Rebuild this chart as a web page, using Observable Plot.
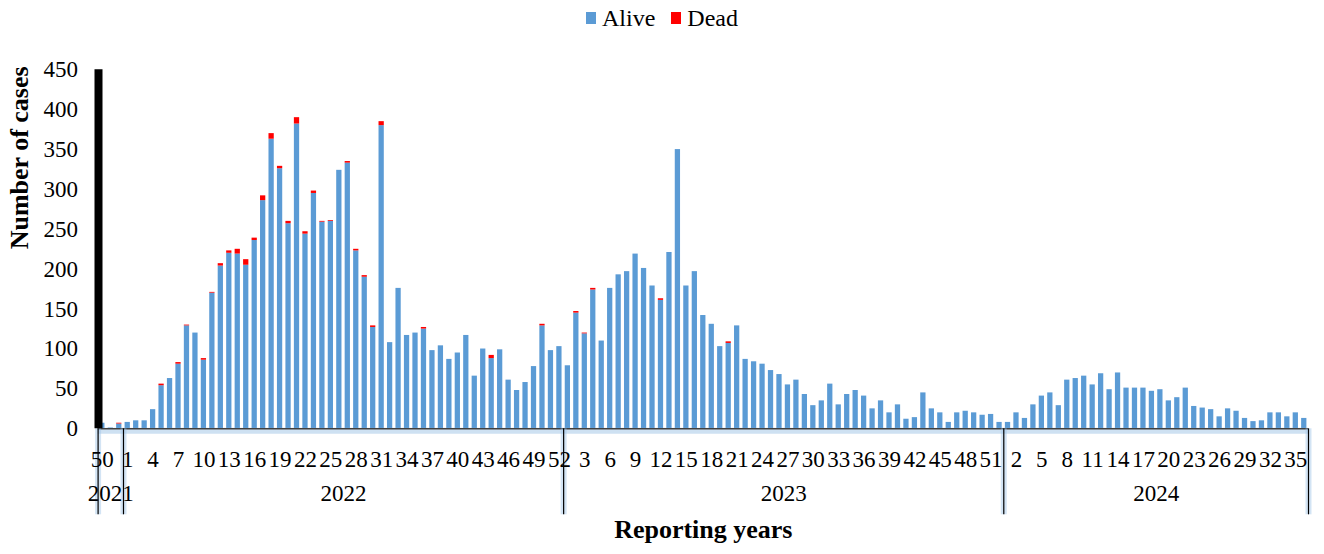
<!DOCTYPE html>
<html>
<head>
<meta charset="utf-8">
<script src="https://cdn.jsdelivr.net/npm/d3@7"></script>
<script src="https://cdn.jsdelivr.net/npm/@observablehq/plot@0.6"></script>
<style>
  body { margin: 0; background: #fff; font-family: "Liberation Serif", "Times New Roman", serif; }
  #legend { height: 36px; display: flex; justify-content: center; align-items: center; font-size: 24px; color: #000; gap: 16px; }
  .item { display: flex; align-items: center; }
  .sw { width: 10px; height: 12px; margin-right: 6px; }
</style>
</head>
<body>
<div id="legend"></div>
<div id="chart"></div>
<script>
// ---- data ----
const years = ["2021", "2022", "2023", "2024"];
const firstWeek = [50, 1, 1, 1];
const lastWeek = [52, 52, 52, 36];

const alive2021 = [7, 1, 6];
const dead2021 = [0, 0, 1];

const alive2022 = [8, 10, 10, 24, 54, 63, 81, 129, 120, 86,
                   170, 204, 220, 219, 205, 236, 286, 363, 326, 257,
                   382, 244, 295, 259, 260, 324, 333, 223, 190, 127,
                   380, 108, 176, 117, 120, 125, 98, 104, 87, 95,
                   117, 66, 100, 88, 99, 61, 48, 58, 78, 129,
                   98, 103];
const dead2022 = [0, 0, 0, 0, 2, 0, 2, 1, 0, 2,
                  1, 3, 3, 6, 7, 3, 6, 7, 3, 3,
                  8, 3, 3, 1, 1, 0, 2, 2, 2, 2,
                  5, 0, 0, 0, 0, 2, 0, 0, 0, 0,
                  0, 0, 0, 4, 0, 0, 0, 0, 0, 2,
                  0, 0];

const alive2023 = [79, 145, 119, 174, 110, 176, 193, 197, 219, 201,
                   179, 161, 221, 350, 179, 197, 142, 131, 103, 107,
                   129, 87, 84, 81, 73, 68, 55, 61, 43, 29,
                   35, 56, 30, 43, 48, 41, 25, 35, 20, 30,
                   12, 14, 45, 25, 20, 8, 20, 22, 20, 17,
                   18, 8];
const dead2023 = [0, 2, 1, 2, 0, 0, 0, 0, 0, 0,
                  0, 2, 0, 0, 0, 0, 0, 0, 0, 2,
                  0, 0, 0, 0, 0, 0, 0, 0, 0, 0,
                  0, 0, 0, 0, 0, 0, 0, 0, 0, 0,
                  0, 0, 0, 0, 0, 0, 0, 0, 0, 0,
                  0, 0];

const alive2024 = [8, 20, 13, 30, 41, 45, 29, 61, 63, 66,
                   55, 69, 49, 70, 51, 51, 51, 47, 49, 35,
                   39, 51, 28, 26, 24, 15, 25, 22, 13, 9,
                   10, 20, 20, 15, 20, 13];
const dead2024 = [0, 0, 0, 0, 0, 0, 0, 0, 0, 0,
                  0, 0, 0, 0, 0, 0, 0, 0, 0, 0,
                  0, 0, 0, 0, 0, 0, 0, 0, 0, 0,
                  0, 0, 0, 0, 0, 0];

const statuses = ["Alive", "Dead"];
const colors = ["#5b9bd5", "#ff0000"];
const yTicks = [0, 50, 100, 150, 200, 250, 300, 350, 400, 450];
const tickEvery = 3;
const xTitle = "Reporting years";
const yTitle = "Number of cases";

// ---- tables built from the arrays ----
const aliveAll = [alive2021, alive2022, alive2023, alive2024];
const deadAll = [dead2021, dead2022, dead2023, dead2024];
const weeks = [];
let idx = 0;
years.forEach((y, k) => {
  for (let w = firstWeek[k], j = 0; w <= lastWeek[k]; w++, j++) {
    weeks.push({ i: idx++, year: y, week: w, alive: aliveAll[k][j], dead: deadAll[k][j] });
  }
});
const bars = weeks.flatMap(d => {
  const rows = [{ i: d.i, status: "Alive", y1: 0, y2: d.alive }];
  if (d.dead > 0) rows.push({ i: d.i, status: "Dead", y1: d.alive, y2: d.alive + d.dead });
  return rows;
});
const yearSpans = years.map(y => {
  const ws = weeks.filter(d => d.year === y);
  const a = ws[0].i, b = ws[ws.length - 1].i;
  return { year: y, start: a - 0.5, end: b + 0.5, mid: (a + b) / 2 };
});
const boundaries = [yearSpans[0].start, ...yearSpans.map(s => s.end)];
const tickIdx = weeks.filter(d => d.i % tickEvery === 0).map(d => d.i);

// ---- legend ----
const legend = document.getElementById("legend");
statuses.forEach((s, k) => {
  const it = document.createElement("div");
  it.className = "item";
  it.innerHTML = `<span class="sw" style="background:${colors[k]}"></span><span>${s}</span>`;
  legend.appendChild(it);
});

// ---- chart ----
const chart = Plot.plot({
  width: 1324,
  height: 518,
  marginLeft: 97.6,
  marginRight: 16,
  marginTop: 33.3,
  marginBottom: 125.7,
  style: { fontFamily: "Liberation Serif, Times New Roman, serif", color: "#000", background: "#fff" },
  x: { type: "linear", domain: [-0.5, weeks.length - 0.5] },
  y: { domain: [0, 450] },
  color: { domain: statuses, range: colors },
  marks: [
    Plot.rect(bars, {
      x1: d => d.i - 0.5, x2: d => d.i + 0.5, y1: "y1", y2: "y2",
      fill: "status", insetLeft: 1.6, insetRight: 1.6
    }),
    Plot.ruleY([0], { stroke: "#9dc3e6", strokeWidth: 6, strokeOpacity: 0.5, dy: 2 }),
    Plot.ruleY([0], { stroke: "#404040", strokeWidth: 1.5 }),
    Plot.ruleX(boundaries, { y1: 0, y2: 0, insetBottom: -86, stroke: "#9dc3e6", strokeWidth: 6, strokeOpacity: 0.45 }),
    Plot.ruleX(boundaries, { y1: 0, y2: 0, insetBottom: -86, stroke: "#000", strokeWidth: 1.2 }),
    Plot.ruleX([yearSpans[0].start], { stroke: "#000", strokeWidth: 8, dx: 0.4 }),
    Plot.axisY({ ticks: yTicks, tickSize: 0, tickPadding: 20, fontSize: 23, label: null }),
    Plot.axisX({ ticks: tickIdx, tickFormat: i => weeks[i].week, tickSize: 0, tickPadding: 22, fontSize: 23, label: null }),
    Plot.text(yearSpans, { x: "mid", text: "year", frameAnchor: "bottom", dy: 72, fontSize: 23 }),
    Plot.text([xTitle], { frameAnchor: "bottom", dy: 109, fontSize: 26, fontWeight: "bold" }),
    Plot.text([yTitle], { frameAnchor: "left", dx: -78, rotate: -90, fontSize: 26, fontWeight: "bold" })
  ]
});
document.getElementById("chart").appendChild(chart);
</script>
</body>
</html>
